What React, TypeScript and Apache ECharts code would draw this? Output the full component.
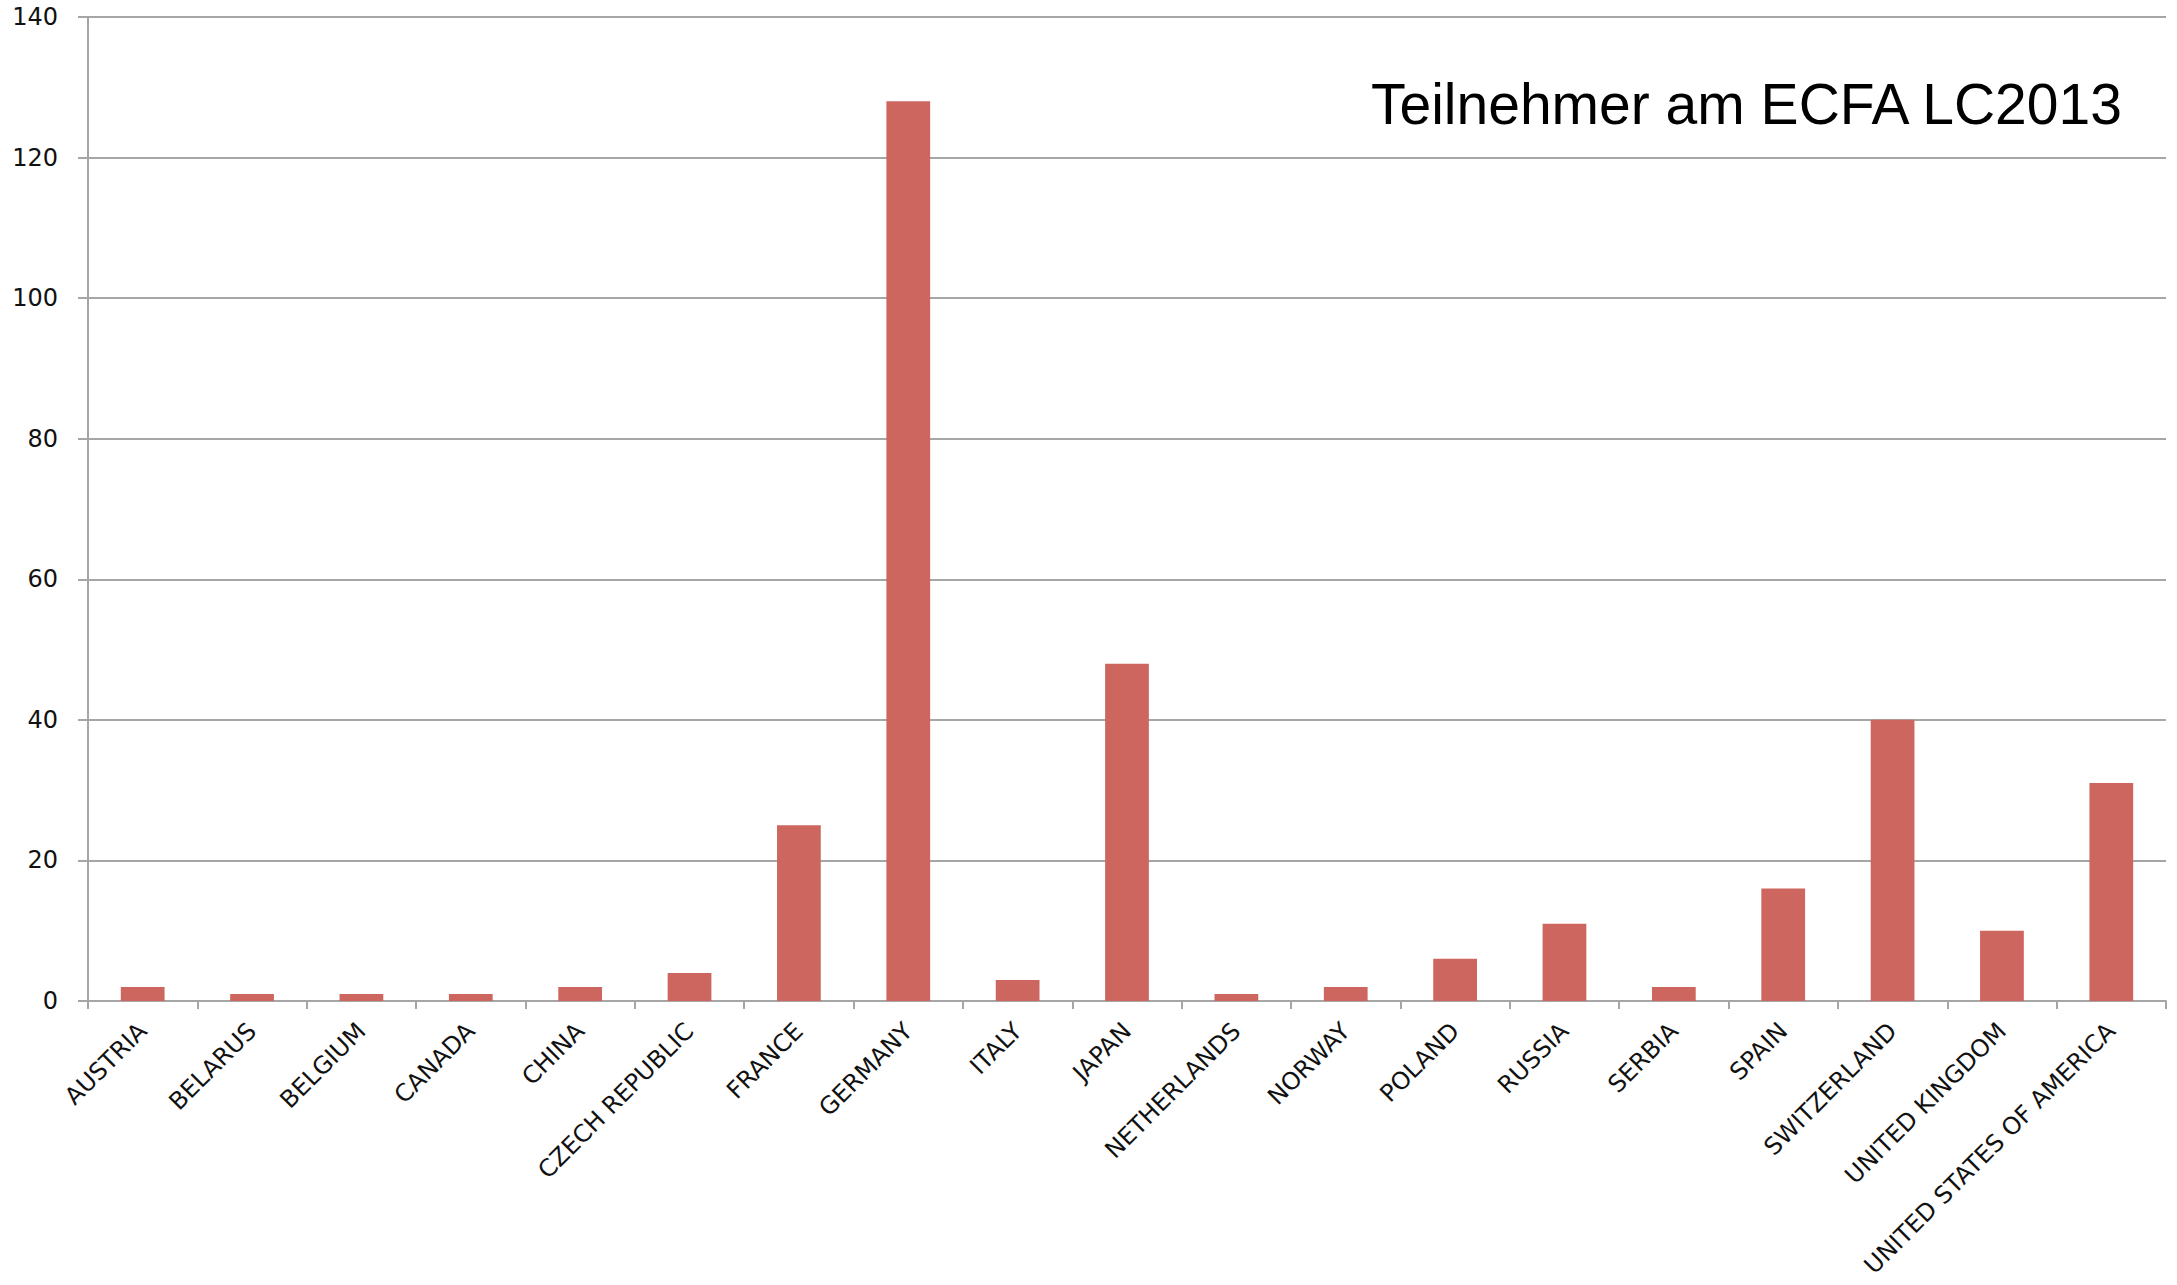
import React, { useEffect, useRef } from "react";
import * as echarts from "echarts";

const countries = [
  "AUSTRIA", "BELARUS", "BELGIUM", "CANADA", "CHINA", "CZECH REPUBLIC", "FRANCE",
  "GERMANY", "ITALY", "JAPAN", "NETHERLANDS", "NORWAY", "POLAND", "RUSSIA",
  "SERBIA", "SPAIN", "SWITZERLAND", "UNITED KINGDOM", "UNITED STATES OF AMERICA",
];
const participants = [2, 1, 1, 1, 2, 4, 25, 128, 3, 48, 1, 2, 6, 11, 2, 16, 40, 10, 31];
const titleText = "Teilnehmer am ECFA LC2013";

export default function App() {
  const ref = useRef<HTMLDivElement>(null);
  useEffect(() => {
    if (!ref.current) return;
    const chart = echarts.init(ref.current, undefined, { renderer: "svg" });
    const axisGray = "#a6a6a6";
    chart.setOption({
      animation: false,
      backgroundColor: "#ffffff",
      title: {
        text: titleText,
        right: 47,
        top: 70,
        textStyle: {
          fontFamily: "Liberation Sans",
          fontSize: 57,
          fontWeight: "normal",
          color: "#000000",
        },
      },
      grid: {
        left: 88,
        right: 11,
        top: 17,
        bottom: 284,
        containLabel: false,
        outerBoundsMode: "none",
      },
      xAxis: {
        type: "category",
        data: countries,
        boundaryGap: true,
        axisLine: { show: true, lineStyle: { color: axisGray, width: 2 } },
        axisTick: { show: true, length: 8, lineStyle: { color: axisGray, width: 2 } },
        axisLabel: {
          rotate: 45,
          interval: 0,
          margin: 26,
          fontFamily: "DejaVu Sans",
          fontSize: 24,
          color: "#111111",
        },
        splitLine: { show: false },
      },
      yAxis: {
        type: "value",
        min: 0,
        max: 140,
        interval: 20,
        axisLine: { show: true, lineStyle: { color: axisGray, width: 2 } },
        axisTick: { show: true, length: 10, lineStyle: { color: axisGray, width: 2 } },
        axisLabel: {
          margin: 30,
          fontFamily: "DejaVu Sans",
          fontSize: 24,
          color: "#111111",
        },
        splitLine: { show: true, lineStyle: { color: axisGray, width: 2 } },
      },
      series: [
        {
          type: "bar",
          data: participants,
          barWidth: "40%",
          itemStyle: { color: "#cd665f" },
        },
      ],
    });
    return () => chart.dispose();
  }, []);
  return (
    <div
      ref={ref}
      style={{ position: "fixed", left: 0, top: 0, width: 2177, height: 1285 }}
    />
  );
}
